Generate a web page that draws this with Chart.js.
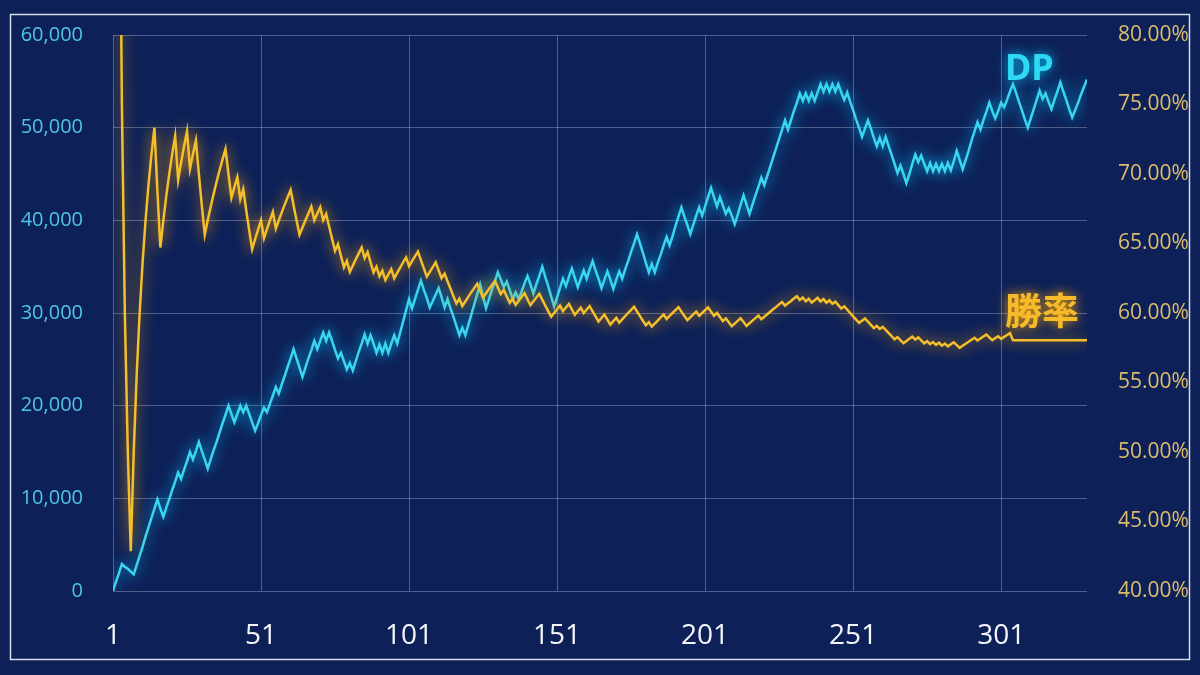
<!DOCTYPE html>
<html lang="ja">
<head>
<meta charset="utf-8">
<title>DP・勝率</title>
<script src="https://cdn.jsdelivr.net/npm/chart.js@4.4.1/dist/chart.umd.min.js"></script>
<style>
  html, body { margin: 0; padding: 0; background: #0d2158; }
  #wrap { width: 1200px; height: 675px; }
</style>
</head>
<body>
<div id="wrap"><canvas id="chart" width="1200" height="675"></canvas></div>
<script>
// tick labels on the x axis (game number)
const xTicks = [1, 51, 101, 151, 201, 251, 301];

// DP after each game
const dp = [
  0, 1000, 1900, 2900, 2600, 2400, 2100, 1800, 2800, 3800,
  4800, 5900, 6900, 7900, 8900, 9900, 8900, 8000, 9000, 9900,
  10900, 11800, 12800, 12100, 13100, 14000, 15000, 14200, 15100, 16100,
  15100, 14200, 13200, 14200, 15200, 16100, 17100, 18100, 19000, 20000,
  19100, 18200, 19100, 20000, 19300, 20000, 19100, 18200, 17300, 18100,
  19000, 19800, 19300, 20200, 21100, 22000, 21300, 22300, 23200, 24200,
  25100, 26100, 25100, 24100, 23100, 24100, 25100, 26000, 27000, 26100,
  27000, 27900, 27000, 27900, 27000, 26000, 25100, 25700, 24800, 23900,
  24600, 23800, 24800, 25800, 26700, 27700, 26700, 27600, 26700, 25700,
  26600, 25700, 26700, 25700, 26700, 27600, 26700, 27900, 29100, 30300,
  31500, 30500, 31500, 32500, 33500, 32500, 31600, 30600, 31300, 32000,
  32700, 31700, 30600, 31500, 30500, 29600, 28600, 27600, 28400, 27600,
  28700, 29800, 30900, 32000, 33100, 31800, 30500, 31500, 32500, 33400,
  34400, 33600, 32800, 33400, 32500, 31500, 32200, 31500, 32300, 33200,
  34000, 33100, 32100, 33100, 34000, 35000, 33900, 32900, 31800, 30700,
  31700, 32700, 33700, 32900, 33900, 34800, 33800, 32800, 33700, 34600,
  33700, 34700, 35600, 34600, 33700, 32700, 33600, 34500, 33600, 32600,
  33600, 34500, 33700, 34700, 35600, 36600, 37500, 38500, 37500, 36500,
  35400, 34400, 35300, 34400, 35400, 36300, 37300, 38200, 37300, 38300,
  39400, 40400, 41400, 40400, 39500, 38500, 39500, 40500, 41400, 40500,
  41500, 42500, 43500, 42500, 41500, 42500, 41600, 40700, 41300, 40500,
  39600, 40600, 41700, 42700, 41700, 40700, 41700, 42700, 43600, 44600,
  43800, 44800, 45800, 46800, 47800, 48800, 49800, 50800, 49800, 50800,
  51800, 52700, 53700, 52900, 53700, 52900, 53700, 52900, 53800, 54700,
  53900, 54700, 53900, 54700, 53900, 54700, 53800, 53000, 53800, 52800,
  51900, 50900, 50000, 49000, 49900, 50800, 49900, 48900, 48000, 48900,
  48000, 49000, 48000, 47100, 46100, 45100, 45900, 45000, 44000, 45000,
  46100, 47100, 46300, 47000, 46100, 45300, 46200, 45300, 46100, 45300,
  46100, 45300, 46200, 45400, 46400, 47500, 46500, 45500, 46500, 47500,
  48600, 49600, 50600, 49800, 50800, 51700, 52700, 51800, 51000, 51800,
  52700, 52200, 53000, 53900, 54700, 53800, 52800, 51900, 50900, 50000,
  51000, 52000, 53000, 54000, 53100, 53700, 52800, 52000, 53000, 53900,
  54900, 53900, 53000, 52000, 51100, 51900, 52700, 53600, 54400, 55200
];

// cumulative win rate (%) after each game
const winRate = [
  100, 100, 100, 75, 60, 50, 42.86, 50, 55.56, 60,
  63.64, 66.67, 69.23, 71.43, 73.33, 68.75, 64.71, 66.67, 68.42, 70,
  71.43, 72.73, 69.57, 70.83, 72, 73.08, 70.37, 71.43, 72.41, 70,
  67.74, 65.63, 66.67, 67.65, 68.57, 69.44, 70.27, 71.05, 71.79, 70,
  68.29, 69.05, 69.77, 68.18, 68.89, 67.39, 65.96, 64.58, 65.31, 66,
  66.67, 65.38, 66.04, 66.67, 67.27, 66.07, 66.67, 67.24, 67.80, 68.33,
  68.85, 67.74, 66.67, 65.63, 66.15, 66.67, 67.16, 67.65, 66.67, 67.14,
  67.61, 66.67, 67.12, 66.22, 65.33, 64.47, 64.94, 64.10, 63.29, 63.75,
  62.96, 63.41, 63.86, 64.29, 64.71, 63.95, 64.37, 63.64, 62.92, 63.33,
  62.64, 63.04, 62.37, 62.77, 63.16, 62.50, 62.89, 63.27, 63.64, 64,
  63.37, 63.73, 64.08, 64.42, 63.81, 63.21, 62.62, 62.96, 63.30, 63.64,
  63.06, 62.50, 62.83, 62.28, 61.74, 61.21, 60.68, 61.02, 60.50, 60.83,
  61.16, 61.48, 61.79, 62.10, 61.60, 61.11, 61.42, 61.72, 62.02, 62.31,
  61.83, 61.36, 61.65, 61.19, 60.74, 61.03, 60.58, 60.87, 61.15, 61.43,
  60.99, 60.56, 60.84, 61.11, 61.38, 60.96, 60.54, 60.14, 59.73, 60,
  60.26, 60.53, 60.13, 60.39, 60.65, 60.26, 59.87, 60.13, 60.38, 60,
  60.25, 60.49, 60.12, 59.76, 59.39, 59.64, 59.88, 59.52, 59.17, 59.41,
  59.65, 59.30, 59.54, 59.77, 60, 60.23, 60.45, 60.11, 59.78, 59.44,
  59.12, 59.34, 59.02, 59.24, 59.46, 59.68, 59.89, 59.57, 59.79, 60,
  60.21, 60.42, 60.10, 59.79, 59.49, 59.69, 59.90, 60.10, 59.80, 60,
  60.20, 60.40, 60.10, 59.80, 60, 59.71, 59.42, 59.62, 59.33, 59.05,
  59.24, 59.43, 59.62, 59.35, 59.07, 59.26, 59.45, 59.63, 59.82, 59.55,
  59.73, 59.91, 60.09, 60.27, 60.44, 60.62, 60.79, 60.53, 60.70, 60.87,
  61.04, 61.21, 60.94, 61.11, 60.85, 61.02, 60.76, 60.92, 61.09, 60.83,
  61.00, 60.74, 60.91, 60.66, 60.82, 60.57, 60.32, 60.48, 60.24, 60,
  59.76, 59.52, 59.29, 59.45, 59.61, 59.38, 59.14, 58.91, 59.07, 58.85,
  59.00, 58.78, 58.56, 58.33, 58.11, 58.27, 58.05, 57.84, 57.99, 58.15,
  58.30, 58.09, 58.24, 58.03, 57.82, 57.97, 57.76, 57.91, 57.71, 57.86,
  57.65, 57.80, 57.60, 57.75, 57.89, 57.69, 57.49, 57.64, 57.79, 57.93,
  58.08, 58.22, 58.02, 58.16, 58.31, 58.45, 58.25, 58.05, 58.19, 58.33,
  58.14, 58.28, 58.42, 58.55, 58.04, 58.04, 58.04, 58.04, 58.04, 58.04,
  58.04, 58.04, 58.04, 58.04, 58.04, 58.04, 58.04, 58.04, 58.04, 58.04,
  58.04, 58.04, 58.04, 58.04, 58.04, 58.04, 58.04, 58.04, 58.04, 58.04
];

// game numbers 1..N for the x axis
const games = dp.map((_, i) => i + 1);

const BG = '#0d2158';
const GRID = 'rgba(170, 180, 205, 0.42)';

// fixed side-axis width; drop the label overhang so the plot starts at the layout padding
const fixSideAxis = scale => {
  scale.width = 113;
  scale.paddingTop = 0;
  scale.paddingBottom = 0;
};

// background + thin white frame round the whole picture
const frame = {
  id: 'frame',
  beforeDraw(chart) {
    const ctx = chart.ctx;
    ctx.save();
    ctx.fillStyle = BG;
    ctx.fillRect(0, 0, chart.width, chart.height);
    ctx.strokeStyle = 'rgba(235, 240, 250, 0.9)';
    ctx.lineWidth = 1.5;
    ctx.strokeRect(10.5, 14.5, chart.width - 21, chart.height - 30);
    ctx.restore();
  }
};

// neon glow under each line
const glow = {
  id: 'glow',
  beforeDatasetDraw(chart, args) {
    const ds = chart.data.datasets[args.index];
    chart.ctx.save();
    chart.ctx.shadowColor = ds.glowColor;
    chart.ctx.shadowBlur = 14;
  },
  afterDatasetDraw(chart) {
    chart.ctx.restore();
  }
};

// "DP" and "勝率" names next to the right end of the lines
const seriesLabels = {
  id: 'seriesLabels',
  afterDatasetsDraw(chart) {
    const ctx = chart.ctx;
    const area = chart.chartArea;
    ctx.save();
    ctx.textAlign = 'left';

    ctx.shadowColor = 'rgba(0, 200, 255, 0.95)';
    ctx.shadowBlur = 12;
    ctx.fillStyle = '#2fd9f2';
    ctx.font = 'bold 36px "Noto Sans", "Open Sans", sans-serif';
    ctx.textBaseline = 'alphabetic';
    ctx.fillText('DP', area.right - 82, area.top + 45);

    ctx.shadowColor = 'rgba(255, 170, 0, 0.95)';
    ctx.fillStyle = '#f7ba2a';
    ctx.font = 'bold 37px "Noto Sans CJK JP", sans-serif';
    ctx.textBaseline = 'middle';
    ctx.fillText('勝率', area.right - 82, area.top + 276);
    ctx.restore();
  }
};

new Chart(document.getElementById('chart'), {
  type: 'line',
  data: {
    labels: games,
    datasets: [
      {
        label: '勝率',
        data: winRate,
        yAxisID: 'y2',
        borderColor: '#f5bf2c',
        glowColor: 'rgba(255, 165, 0, 0.9)',
        borderWidth: 2.5,
        pointRadius: 0,
        tension: 0,
        order: 0
      },
      {
        label: 'DP',
        data: dp,
        yAxisID: 'y',
        borderColor: '#3ad6ef',
        glowColor: 'rgba(0, 200, 255, 0.9)',
        borderWidth: 2.5,
        pointRadius: 0,
        tension: 0,
        order: 1
      }
    ]
  },
  options: {
    responsive: false,
    animation: false,
    devicePixelRatio: 1,
    layout: { padding: { top: 35 } },
    plugins: {
      legend: { display: false },
      tooltip: { enabled: false }
    },
    scales: {
      x: {
        type: 'linear',
        min: 1,
        max: games.length,
        afterBuildTicks: axis => { axis.ticks = xTicks.map(v => ({ value: v })); },
        afterFit: scale => { scale.height = 84; },
        grid: { color: GRID, drawTicks: false },
        border: { display: false },
        ticks: {
          color: '#f4f6fa',
          font: { family: '"Open Sans", sans-serif', size: 28 },
          padding: 28,
          maxRotation: 0,
          autoSkip: false,
          callback: v => String(v)
        }
      },
      y: {
        position: 'left',
        min: 0,
        max: 60000,
        afterFit: fixSideAxis,
        grid: { color: GRID, drawTicks: false },
        border: { display: false },
        ticks: {
          stepSize: 10000,
          color: '#4fc4e8',
          font: { family: '"Open Sans", sans-serif', size: 20 },
          padding: 30,
          callback: v => v.toLocaleString('en-US')
        }
      },
      y2: {
        position: 'right',
        min: 40,
        max: 80,
        afterFit: fixSideAxis,
        grid: { display: false },
        border: { display: false },
        ticks: {
          stepSize: 5,
          color: '#dcbc6e',
          font: { family: '"Open Sans", sans-serif', size: 21 },
          padding: 23,
          callback: v => v.toFixed(2) + '%'
        }
      }
    }
  },
  plugins: [frame, glow, seriesLabels]
});
</script>
</body>
</html>
